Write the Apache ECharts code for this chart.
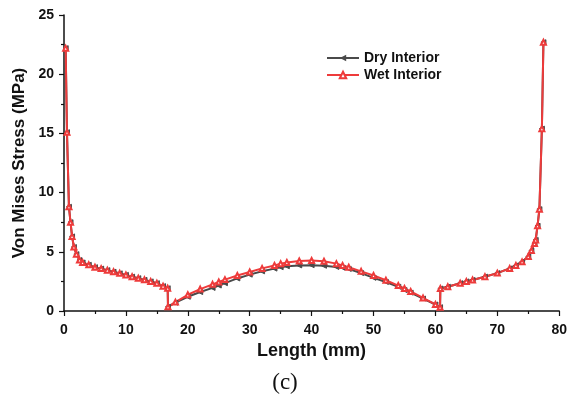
<!DOCTYPE html>
<html>
<head>
<meta charset="utf-8">
<script src="https://cdn.jsdelivr.net/npm/echarts@6/dist/echarts.min.js"></script>
<style>
  html, body { margin: 0; padding: 0; background: #fff; }
  #main { width: 570px; height: 401px; }
</style>
</head>
<body>
<div id="main"></div>
<script>
var myChart = echarts.init(document.getElementById('main'));

// Length along the section (mm)
var lengthMm = [0.27, 0.48, 0.8, 1.05, 1.3, 1.6, 2, 2.5, 3, 4, 5, 6, 7, 8, 9, 10, 11, 12, 13, 14, 15, 16, 16.75, 16.8,
    18, 20, 22, 24, 25, 26, 28, 30, 32, 34, 35, 36, 38, 40, 42, 44, 45, 46, 48, 50, 52, 54, 55, 56, 58, 60, 60.75,
    60.8, 62, 64, 65, 66, 68, 70, 72, 73, 74, 75, 75.5, 76, 76.2, 76.5, 76.8, 77.2, 77.45];

var dryStress = [22.2, 15.1, 8.8, 7.5, 6.3, 5.4, 4.8, 4.3, 4.1, 3.9, 3.7, 3.58, 3.45, 3.32, 3.18, 3.05, 2.9, 2.77, 2.63, 2.5, 2.35, 2.1, 1.92, 0.35,
    0.7, 1.2, 1.6, 1.95, 2.15, 2.35, 2.75, 3.07, 3.35, 3.58, 3.7, 3.78, 3.85, 3.87, 3.82, 3.72, 3.66, 3.55, 3.2, 2.8, 2.45, 2.05, 1.77, 1.55, 1.05, 0.55, 0.32,
    1.9, 2.05, 2.35, 2.5, 2.62, 2.9, 3.2, 3.6, 3.85, 4.15, 4.6, 5.1, 5.7, 6.0, 7.2, 8.6, 15.4, 22.7];

var wetStress = [22.2, 15.1, 8.8, 7.5, 6.3, 5.4, 4.8, 4.3, 4.1, 3.9, 3.7, 3.58, 3.45, 3.32, 3.18, 3.05, 2.9, 2.77, 2.63, 2.5, 2.35, 2.1, 1.92, 0.35,
    0.75, 1.37, 1.85, 2.25, 2.45, 2.65, 3.0, 3.3, 3.6, 3.85, 4.0, 4.1, 4.22, 4.27, 4.2, 4.0, 3.85, 3.7, 3.35, 3.0, 2.6, 2.15, 1.9, 1.65, 1.1, 0.55, 0.32,
    1.9, 2.05, 2.35, 2.5, 2.62, 2.9, 3.2, 3.6, 3.85, 4.15, 4.6, 5.1, 5.7, 6.0, 7.2, 8.6, 15.4, 22.7];

function pairs(xs, ys) {
    var out = [];
    for (var i = 0; i < xs.length; i++) {
        out.push([xs[i], ys[i]]);
    }
    return out;
}

var sansBold = {
    color: '#111',
    fontFamily: 'Liberation Sans, Arial, sans-serif',
    fontWeight: 'bold'
};

option = {
    animation: false,
    title: {
        text: '(c)',
        left: 'center',
        top: 366,
        textStyle: {
            fontFamily: 'Liberation Serif, Times New Roman, serif',
            fontWeight: 'normal',
            fontSize: 23,
            color: '#111'
        }
    },
    legend: {
        orient: 'vertical',
        left: 321,
        top: 46,
        itemWidth: 32,
        itemHeight: 8,
        itemGap: 3,
        textStyle: Object.assign({ fontSize: 14 }, sansBold),
        data: ['Dry Interior', 'Wet Interior']
    },
    grid: {
        left: 64,
        right: 3,
        top: 15,
        bottom: 90
    },
    xAxis: {
        type: 'value',
        min: 0,
        max: 80,
        interval: 10,
        name: 'Length (mm)',
        nameLocation: 'middle',
        nameGap: 31,
        nameTextStyle: Object.assign({ fontSize: 18 }, sansBold),
        splitLine: { show: false },
        axisLine: { lineStyle: { color: '#111', width: 1.5 } },
        axisTick: { length: 5, lineStyle: { color: '#111', width: 1.2 } },
        minorTick: { show: true, splitNumber: 2, length: 3, lineStyle: { color: '#111', width: 1.2 } },
        axisLabel: Object.assign({ margin: 12, fontSize: 14, showMaxLabel: true }, sansBold)
    },
    yAxis: {
        type: 'value',
        min: 0,
        max: 25,
        interval: 5,
        name: 'Von Mises Stress (MPa)',
        nameLocation: 'middle',
        nameGap: 34,
        nameTextStyle: Object.assign({ fontSize: 17 }, sansBold),
        splitLine: { show: false },
        axisLine: { show: true, lineStyle: { color: '#111', width: 1.5 } },
        axisTick: { show: true, length: 5, lineStyle: { color: '#111', width: 1.2 } },
        minorTick: { show: true, splitNumber: 2, length: 3, lineStyle: { color: '#111', width: 1.2 } },
        axisLabel: Object.assign({ margin: 10, fontSize: 14 }, sansBold)
    },
    series: [
        {
            name: 'Dry Interior',
            type: 'line',
            data: pairs(lengthMm, dryStress),
            symbol: 'triangle',
            symbolRotate: 90,
            symbolSize: 5,
            showAllSymbol: true,
            lineStyle: { color: '#4a4a4a', width: 2 },
            itemStyle: { color: '#4a4a4a', borderColor: '#4a4a4a' }
        },
        {
            name: 'Wet Interior',
            type: 'line',
            data: pairs(lengthMm, wetStress),
            symbol: 'emptyTriangle',
            symbolSize: 5,
            showAllSymbol: true,
            lineStyle: { color: '#ee3b3b', width: 2 },
            itemStyle: { color: '#ee3b3b', borderColor: '#ee3b3b', borderWidth: 1 }
        }
    ]
};

myChart.setOption(option);
</script>
</body>
</html>
